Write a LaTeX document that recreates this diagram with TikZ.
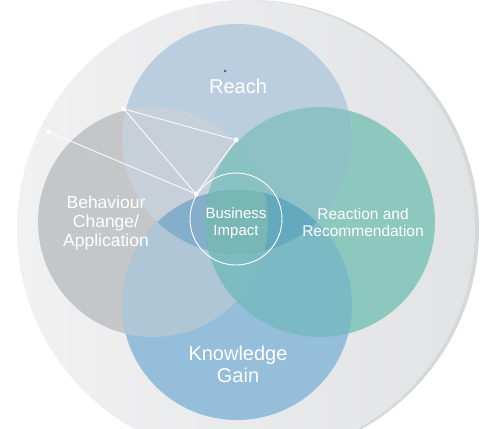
\documentclass[tikz,border=0pt]{standalone}
\usepackage{fontspec}
\setmainfont{Liberation Sans}
\definecolor{bgleft}{HTML}{F1F1F2}
\definecolor{bgright}{HTML}{E2E3E5}
\definecolor{bgedge}{HTML}{D6D7D9}
\definecolor{cT}{HTML}{BACEDF}
\definecolor{cB}{HTML}{C5C6C8}
\definecolor{cR}{HTML}{8DC8BE}
\definecolor{cK}{HTML}{94BED9}
\definecolor{cTB}{HTML}{C7D0D8}
\definecolor{cTR}{HTML}{8DC1C5}
\definecolor{cKB}{HTML}{AFC6D6}
\definecolor{cKR}{HTML}{7BBAC4}
\definecolor{cTBR}{HTML}{88C2C2}
\definecolor{cKBR}{HTML}{7DBCC0}
\definecolor{cTK}{HTML}{84AECA}
\definecolor{cTKR}{HTML}{63AABE}
\definecolor{cAll}{HTML}{79B7B7}
\definecolor{dotblue}{HTML}{3A6FB0}
\begin{document}
\begin{tikzpicture}[x=1pt,y=-1pt,
  lbl/.style={text=white, align=center, inner sep=0pt},
  net/.style={draw=white, line width=0.8pt},
  netdot/.style={circle, fill=white, inner sep=0pt, minimum size=5pt},
  ring/.style={circle, draw=white, line width=0.9pt, minimum size=92pt, inner sep=0pt}]
\useasboundingbox (0,0) rectangle (484,428);
\fill[white] (0,0) rectangle (484,428);
% outer disk
\fill[bgedge] (250,229) circle[radius=229pt];
\shade[left color=bgleft, right color=bgright] (246,229) circle[radius=229pt];
\coordinate (T) at (237,139);
\coordinate (B) at (153,222);
\coordinate (R) at (320,222);
\coordinate (K) at (237,305);
\def\rr{115pt}
% base circles
\fill[cB] (B) circle[radius=\rr];
\fill[cR] (R) circle[radius=\rr];
\fill[cT] (T) circle[radius=\rr];
\fill[cK] (K) circle[radius=\rr];
% pairwise
\begin{scope}\clip (T) circle[radius=\rr];
  \fill[cTB] (B) circle[radius=\rr];
  \fill[cTR] (R) circle[radius=\rr];
  \begin{scope}\clip (B) circle[radius=\rr]; \fill[cTBR] (R) circle[radius=\rr]; \end{scope}
\end{scope}
\begin{scope}\clip (K) circle[radius=\rr];
  \fill[cKB] (B) circle[radius=\rr];
  \fill[cKR] (R) circle[radius=\rr];
  \begin{scope}\clip (B) circle[radius=\rr]; \fill[cKBR] (R) circle[radius=\rr]; \end{scope}
\end{scope}
% top-bottom lens
\begin{scope}\clip (T) circle[radius=\rr];
  \clip (K) circle[radius=\rr];
  \fill[cTK] (B) circle[radius=\rr];
  \fill[cTKR] (R) circle[radius=\rr];
  \clip (B) circle[radius=\rr];
  \fill[cAll] (R) circle[radius=\rr];
\end{scope}
% business impact ring
\node[ring] (bi) at (236,219) {};
% network
\node[netdot] (p1) at (124,109) {};
\node[netdot] (p2) at (236,140) {};
\node[netdot] (p3) at (49,132) {};
\node[netdot] (p4) at (196,194) {};
\coordinate (p0) at (16,158);
\draw[net] (p1) -- (p2);
\draw[net] (p1) -- (p4);
\draw[net] (p2) -- (p4);
\draw[net] (p3) -- (p4);
\draw[net, opacity=0.6] (p3) -- (p0);
\node[circle, fill=dotblue, inner sep=0pt, minimum size=3pt] (bd) at (225,71) {};
% labels
\node[lbl, font=\fontsize{20}{22}\selectfont] (reach) at (238,86) {Reach};
\node[lbl, font=\fontsize{17.5}{19}\selectfont] (beh) at (106,223) {Behaviour\\Change/\\Application};
\node[lbl, font=\fontsize{15}{17}\selectfont] (biz) at (236,223) {Business\\Impact};
\node[lbl, font=\fontsize{15.5}{17}\selectfont] (rea) at (363,222) {Reaction and\\Recommendation};
\node[lbl, font=\fontsize{20}{22}\selectfont] (kno) at (238,364) {Knowledge\\Gain};
\end{tikzpicture}
\end{document}
